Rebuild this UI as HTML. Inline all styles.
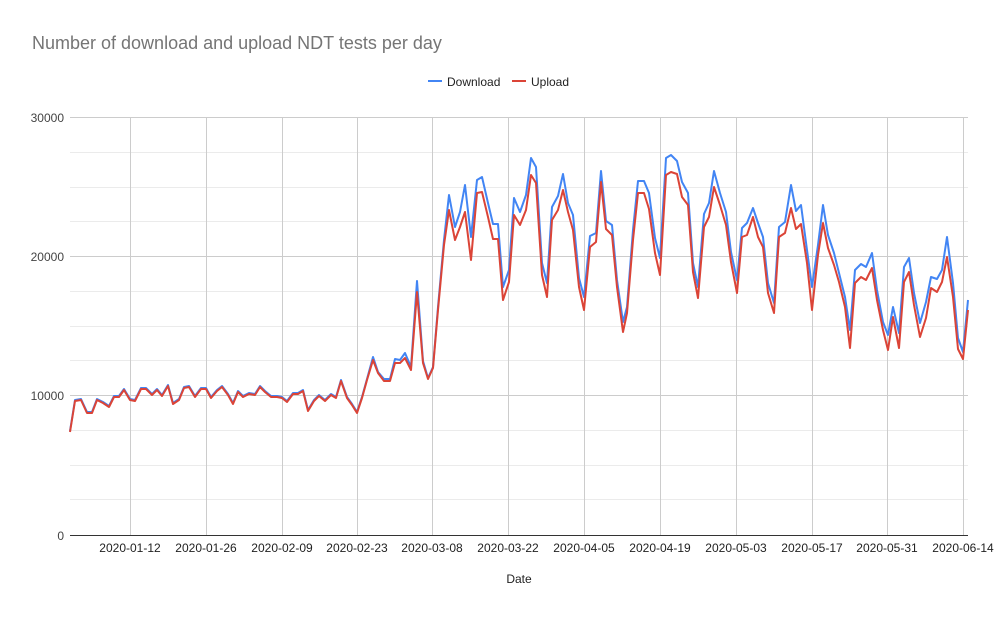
<!DOCTYPE html>
<html><head><meta charset="utf-8"><style>
html,body{margin:0;padding:0;background:#fff;}
svg{display:block;font-family:"Liberation Sans",Arial,sans-serif;}
</style></head><body>
<svg width="1000" height="618" viewBox="0 0 1000 618" xmlns="http://www.w3.org/2000/svg">
<rect width="1000" height="618" fill="#fff"/>
<text x="32" y="49" font-size="18" fill="#757575">Number of download and upload NDT tests per day</text>
<line x1="428" y1="81" x2="442" y2="81" stroke="#4285f4" stroke-width="2"/>
<text x="447" y="86" font-size="12" fill="#222">Download</text>
<line x1="512" y1="81" x2="526" y2="81" stroke="#db4437" stroke-width="2"/>
<text x="531" y="86" font-size="12" fill="#222">Upload</text>
<g stroke="#ebebeb" stroke-width="1">
<line x1="70" y1="152.5" x2="968" y2="152.5"/><line x1="70" y1="187.5" x2="968" y2="187.5"/><line x1="70" y1="221.5" x2="968" y2="221.5"/>
<line x1="70" y1="291.5" x2="968" y2="291.5"/><line x1="70" y1="326.5" x2="968" y2="326.5"/><line x1="70" y1="360.5" x2="968" y2="360.5"/>
<line x1="70" y1="430.5" x2="968" y2="430.5"/><line x1="70" y1="465.5" x2="968" y2="465.5"/><line x1="70" y1="499.5" x2="968" y2="499.5"/>
</g>
<g stroke="#ccc" stroke-width="1">
<line x1="70" y1="117.5" x2="968" y2="117.5"/><line x1="70" y1="256.5" x2="968" y2="256.5"/><line x1="70" y1="395.5" x2="968" y2="395.5"/>
<line x1="130.5" y1="117" x2="130.5" y2="535"/><line x1="206.5" y1="117" x2="206.5" y2="535"/><line x1="282.5" y1="117" x2="282.5" y2="535"/>
<line x1="357.5" y1="117" x2="357.5" y2="535"/><line x1="432.5" y1="117" x2="432.5" y2="535"/><line x1="508.5" y1="117" x2="508.5" y2="535"/>
<line x1="584.5" y1="117" x2="584.5" y2="535"/><line x1="660.5" y1="117" x2="660.5" y2="535"/><line x1="736.5" y1="117" x2="736.5" y2="535"/>
<line x1="812.5" y1="117" x2="812.5" y2="535"/><line x1="887.5" y1="117" x2="887.5" y2="535"/><line x1="963.5" y1="117" x2="963.5" y2="535"/>
</g>
<line x1="70" y1="535.5" x2="968" y2="535.5" stroke="#333" stroke-width="1"/>
<g font-size="12" fill="#444" text-anchor="end">
<text x="64" y="122">30000</text><text x="64" y="261">20000</text><text x="64" y="400">10000</text><text x="64" y="540">0</text>
</g>
<g font-size="12" fill="#222" text-anchor="middle">
<text x="130" y="552">2020-01-12</text><text x="206" y="552">2020-01-26</text><text x="282" y="552">2020-02-09</text>
<text x="357" y="552">2020-02-23</text><text x="432" y="552">2020-03-08</text><text x="508" y="552">2020-03-22</text>
<text x="584" y="552">2020-04-05</text><text x="660" y="552">2020-04-19</text><text x="736" y="552">2020-05-03</text>
<text x="812" y="552">2020-05-17</text><text x="887" y="552">2020-05-31</text><text x="963" y="552">2020-06-14</text>
<text x="519" y="583">Date</text>
</g>
<polyline fill="none" stroke="#4285f4" stroke-width="2" stroke-linejoin="round" points="70,431 75,400 81,399 87,412 92,412 97,399 103,402 109,406 114,396 119,396 124,389 130,399 135,400 141,388 146,388 152,394 157,389 162,395 168,385 173,403 179,399 184,387 189,386 195,396 201,388 206,388 211,397 217,390 222,386 228,394 233,403 238,391 243,396 249,393 255,394 260,386 265,391 271,396 277,396 282,397 287,401 293,393 298,393 303,390 308,410 314,400 319,395 325,400 331,394 336,397 341,380 347,397 352,404 357,412 362,397 367,379 373,357 378,372 384,379 390,379 395,359 400,360 405,353 411,367 417,281 423,361 428,378 433,367 438,307 444,240 449,195 455,227 460,212 465,185 471,237 477,180 482,177 488,203 493,224 498,224 503,287 509,270 514,198 520,212 526,195 531,158 536,167 542,263 547,283 552,207 558,196 563,174 568,203 573,215 579,278 584,297 590,236 596,233 601,171 606,221 612,225 617,280 623,322 627,307 633,230 638,181 644,181 649,193 655,238 660,258 666,158 671,155 677,161 682,182 688,193 693,263 698,287 704,214 709,203 714,171 720,193 726,212 731,252 737,280 742,228 747,223 753,208 758,223 763,237 768,283 774,303 779,227 785,222 791,185 796,211 801,205 807,250 812,287 818,245 823,205 828,235 834,253 839,273 845,297 850,330 855,270 861,264 866,267 872,253 877,290 883,322 888,335 893,307 899,333 904,267 909,258 914,293 920,323 926,302 931,277 937,279 942,270 947,237 953,283 958,338 963,352 968,300"/>
<polyline fill="none" stroke="#db4437" stroke-width="2" stroke-linejoin="round" points="70,432 75,401 81,400 87,413 92,413 97,400 103,403 109,407 114,397 119,397 124,390 130,400 135,401 141,389 146,389 152,395 157,390 162,396 168,386 173,404 179,400 184,388 189,387 195,397 201,389 206,389 211,398 217,391 222,387 228,395 233,404 238,392 243,397 249,394 255,395 260,387 265,392 271,397 277,397 282,398 287,402 293,394 298,394 303,391 308,411 314,401 319,396 325,401 331,395 336,398 341,381 347,398 352,405 357,413 362,398 367,380 373,360 378,373 384,381 390,381 395,363 400,363 405,358 411,370 417,292 423,363 428,379 433,368 438,310 444,245 449,210 455,240 460,227 465,212 471,260 477,193 482,192 488,217 493,239 498,239 503,300 509,282 514,215 520,225 526,210 531,175 536,183 542,275 547,297 552,220 558,210 563,190 568,212 573,230 579,287 584,310 590,247 596,242 601,182 606,229 612,235 617,287 623,332 627,313 633,240 638,193 644,193 649,209 655,253 660,275 666,175 671,172 677,174 682,197 688,205 693,272 698,298 704,227 709,217 714,187 720,205 726,225 731,262 737,293 742,237 747,235 753,217 758,237 763,247 768,293 774,313 779,237 785,233 791,208 796,229 801,224 807,263 812,310 818,255 823,223 828,248 834,265 839,282 845,307 850,348 855,283 861,277 866,280 872,268 877,300 883,330 888,350 893,317 899,348 904,282 909,272 914,305 920,337 926,318 931,288 937,292 942,282 947,257 953,297 958,349 963,359 968,310"/>
</svg>
</body></html>
